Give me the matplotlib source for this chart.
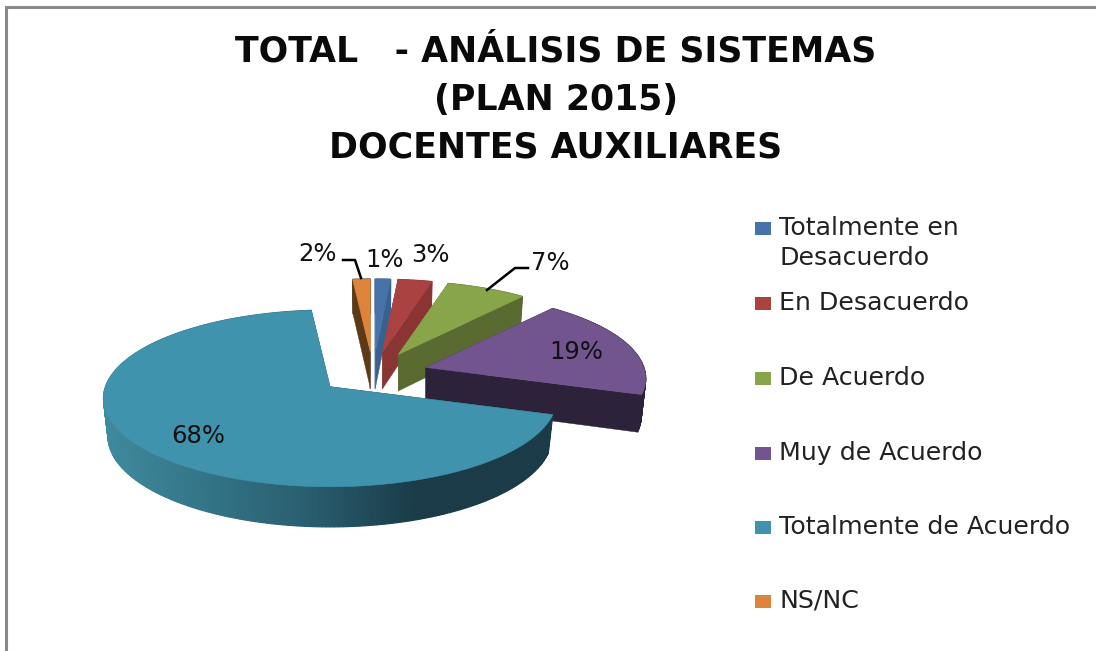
import numpy as np
import matplotlib
matplotlib.use("Agg")
import matplotlib.pyplot as plt
from matplotlib.colors import to_rgb
from matplotlib.patches import Rectangle

title = "TOTAL   - ANÁLISIS DE SISTEMAS\n(PLAN 2015)\nDOCENTES AUXILIARES"
categories = ["Totalmente en\nDesacuerdo", "En Desacuerdo", "De Acuerdo",
              "Muy de Acuerdo", "Totalmente de Acuerdo", "NS/NC"]
values = [1.3, 2.9, 6.8, 19.0, 68.5, 1.5]
top_colors = ["#4674a9", "#a94240", "#88a54a", "#72548f", "#3f93ad", "#dc843c"]
side_colors = ["#38618f", "#8a3433", "#5a6b31", "#2c2239", "#1a3b47", "#5c3a17"]
label_pos = [(385, 260), (430, 255), (550, 263), (576, 352), (198, 436), (317, 254)]
legend_y = [228, 303, 378, 453, 527, 601]

W, H = 1096, 651
fig = plt.figure(figsize=(W / 100, H / 100), dpi=100, facecolor="white")
ax = fig.add_axes([0, 0, 1, 1])
ax.set_xlim(0, W)
ax.set_ylim(H, 0)
ax.axis("off")

# frame
ax.plot([6, 6, W], [H, 7, 7], color="#8a8a8a", lw=2.2, solid_joinstyle="miter")

# projection of the exploded pie
CX, CY, RX, RY, K, EXPL = 373.0, 373.4, 220.0, 85.0, 0.13, 0.25


def persp(y):
    return 1.0 / (1.0 + K * y)


def project(theta, mid):
    u, v = np.sin(theta), np.cos(theta)
    um, vm = np.sin(mid), np.cos(mid)
    tx, ty = CX + EXPL * RX * um, CY - EXPL * RY * vm
    f = persp(EXPL * vm + v)
    return tx, ty, tx + RX * u * f, ty - RY * v * f, f


def depth(f):
    return 37.0 * np.sqrt(f)


TEAL_STOPS = ([103, 300, 420], ["#3f8a9e", "#2a6072", "#1a3b47"])


def teal_shade(x):
    rgb = np.array([to_rgb(c) for c in TEAL_STOPS[1]])
    return tuple(np.interp(x, TEAL_STOPS[0], rgb[:, i]) for i in range(3))


def side_quad(xa, ya, fa, xb, yb, fb, tx):
    xa2 = tx + (xa - tx) * 0.98
    xb2 = tx + (xb - tx) * 0.98
    return [xa, xb, xb2, xa2], [ya, yb, yb + depth(fb), ya + depth(fa)]


fracs = np.cumsum([0.0] + values) / sum(values) * 2 * np.pi
for i in [5, 0, 1, 2, 3, 4]:
    a0, a1 = fracs[i], fracs[i + 1]
    mid = (a0 + a1) / 2
    thetas = np.linspace(a0, a1, max(8, int((a1 - a0) * 60)))
    pts = [project(t, mid) for t in thetas]
    tx, ty = pts[0][0], pts[0][1]
    fig_f = persp(EXPL * np.cos(mid))
    xs = [p[2] for p in pts]
    ys = [p[3] for p in pts]
    fs = [p[4] for p in pts]
    side = side_colors[i]
    # cut faces
    for j in (0, -1):
        qx, qy = side_quad(tx, ty, fig_f, xs[j], ys[j], fs[j], tx)
        ax.fill(qx, qy, color=side, lw=0.3, zorder=2 + i * 0.1 if i != 4 else 3)
    # outer rim
    for j in range(len(xs) - 1):
        qx, qy = side_quad(xs[j], ys[j], fs[j], xs[j + 1], ys[j + 1], fs[j + 1], tx)
        col = teal_shade(xs[j]) if i == 4 else side
        ax.fill(qx, qy, color=col, lw=0.9, zorder=(3 if i == 4 else 2 + i * 0.1))
    # top
    ax.fill([tx] + xs, [ty] + ys, color=top_colors[i], lw=0.4,
            zorder=(3.5 if i == 4 else 2.05 + i * 0.1))

# value labels
for v, (lx, ly) in zip(values, label_pos):
    ax.text(lx, ly, f"{v:.0f}%", ha="center", va="center", fontsize=17.5,
            color="#111111", family="DejaVu Sans", zorder=6)

# leader lines
ax.plot([343, 355, 361], [260, 260, 278], color="black", lw=1.8, zorder=5)
ax.plot([487, 515, 528], [290, 268, 268], color="black", lw=1.8, zorder=5)

# title
for line, y in zip(title.split("\n"), [52, 100, 148]):
    ax.text(556, y, line, ha="center", va="center", fontsize=25, fontweight="bold",
            family="DejaVu Sans", color="#0a0a0a")

# legend
for name, col, y in zip(categories, top_colors, legend_y):
    ax.add_patch(Rectangle((755, y - 6.5), 16, 13, facecolor=col, edgecolor="none"))
    if "\n" in name:
        first, second = name.split("\n")
        ax.text(779, y, first, va="center", ha="left", fontsize=18.2, color="#222222", family="DejaVu Sans")
        ax.text(779, y + 30, second, va="center", ha="left", fontsize=18.2, color="#222222", family="DejaVu Sans")
    else:
        ax.text(779, y, name, va="center", ha="left", fontsize=18.2, color="#222222", family="DejaVu Sans")

fig.savefig("out.png", dpi=100)
